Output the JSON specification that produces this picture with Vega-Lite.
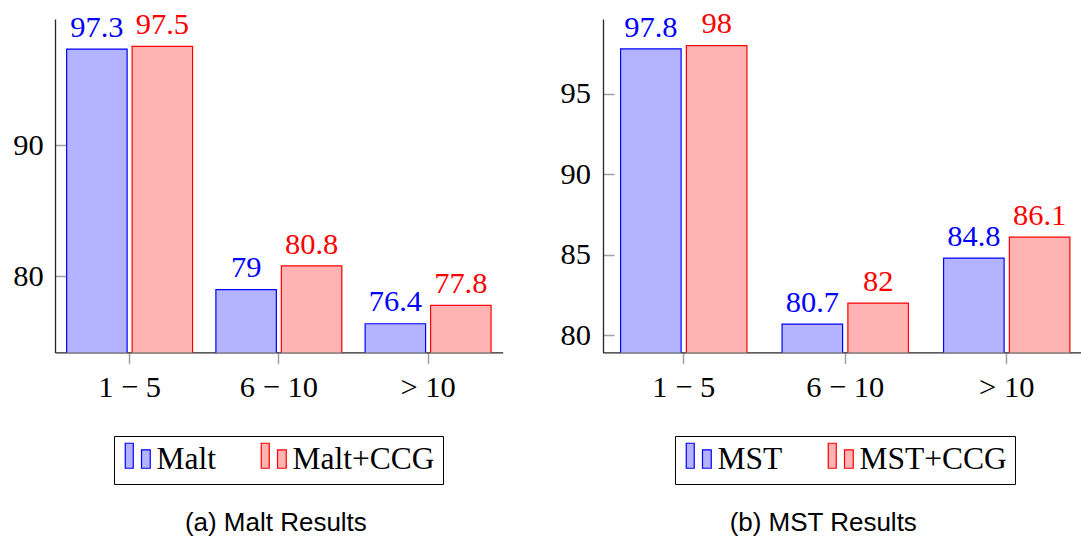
{
  "$schema": "https://vega.github.io/schema/vega-lite/v6.json",
  "background": "white",
  "padding": {"left": 0, "top": 9, "right": -7, "bottom": 0},
  "spacing": 45,
  "config": {
    "view": {"stroke": null},
    "axis": {
      "labelFont": "Liberation Serif",
      "labelFontSize": 30.5,
      "labelColor": "black",
      "domainColor": "#262626",
      "domainWidth": 1.3,
      "tickColor": "#a0a0a0",
      "tickWidth": 1.5,
      "grid": false,
      "title": null,
      "zindex": 1
    },
    "legend": {"layout": {"bottom": {"anchor": "middle"}}}
  },
  "resolve": {
    "scale": {"x": "independent", "y": "independent", "xOffset": "independent", "fill": "independent", "stroke": "independent", "color": "independent"},
    "legend": {"fill": "independent"}
  },
  "hconcat": [
    {
      "width": 447.7,
      "height": 333.4,
      "title": {"text": "(a) Malt Results", "orient": "bottom", "anchor": "middle", "frame": "group", "font": "Liberation Sans", "fontSize": 26, "fontWeight": "normal", "color": "black", "offset": 26, "dx": -3},
      "data": {"values": [
        {"bin": "1 − 5", "series": "Malt", "value": 97.3},
        {"bin": "1 − 5", "series": "Malt+CCG", "value": 97.5},
        {"bin": "6 − 10", "series": "Malt", "value": 79},
        {"bin": "6 − 10", "series": "Malt+CCG", "value": 80.8},
        {"bin": "> 10", "series": "Malt", "value": 76.4},
        {"bin": "> 10", "series": "Malt+CCG", "value": 77.8}
      ]},
      "encoding": {
        "x": {"field": "bin", "type": "nominal", "sort": ["1 − 5", "6 − 10", "> 10"], "scale": {"paddingInner": 0, "paddingOuter": 0}, "axis": {"labelAngle": 0, "tickSize": 11, "labelPadding": 9}},
        "xOffset": {"field": "series", "type": "nominal", "sort": ["Malt", "Malt+CCG"], "scale": {"paddingInner": 0.076, "paddingOuter": 0.178}},
        "y": {"field": "value", "type": "quantitative", "scale": {"domain": [74.22, 99.59], "nice": false, "zero": false}, "axis": {"values": [80, 90], "tickSize": -11, "labelPadding": 22.7, "minExtent": 55}}
      },
      "layer": [
        {
          "mark": {"type": "bar", "strokeWidth": 1.2, "clip": true},
          "encoding": {
            "fill": {"field": "series", "type": "nominal", "sort": ["Malt", "Malt+CCG"], "scale": {"range": ["#b3b3ff", "#ffb3b3"]},
              "legend": {"orient": "bottom", "direction": "horizontal", "title": null, "strokeColor": "black", "fillColor": "white", "cornerRadius": 0, "padding": 8, "offset": 33, "symbolType": "M-1,-1.35H-0.36V0.65H-1Z M0.3,-0.82H1V0.65H0.3Z", "symbolSize": 625, "symbolStrokeWidth": 1.2, "labelFont": "Liberation Serif", "labelFontSize": 31.5, "labelColor": "black", "labelOffset": 3, "columnPadding": 42, "labelLimit": 400,
                "encode": {"symbols": {"update": {"stroke": {"signal": "test(/CCG/, datum.value) ? '#ff0000' : '#0000ff'"}, "strokeWidth": {"value": 1.2}}}}}},
            "stroke": {"field": "series", "type": "nominal", "sort": ["Malt", "Malt+CCG"], "scale": {"range": ["#0000ff", "#ff0000"]}, "legend": null}
          }
        },
        {
          "mark": {"type": "text", "font": "Liberation Serif", "fontSize": 30.5, "baseline": "alphabetic", "align": "center", "dy": -12.4},
          "encoding": {
            "text": {"field": "value", "type": "quantitative"},
            "color": {"field": "series", "type": "nominal", "sort": ["Malt", "Malt+CCG"], "scale": {"range": ["#0000ff", "#ff0000"]}, "legend": null}
          }
        }
      ]
    },
    {
      "width": 484.5,
      "height": 333.4,
      "title": {"text": "(b) MST Results", "orient": "bottom", "anchor": "middle", "frame": "group", "font": "Liberation Sans", "fontSize": 26, "fontWeight": "normal", "color": "black", "offset": 26, "dx": -22},
      "data": {"values": [
        {"bin": "1 − 5", "series": "MST", "value": 97.8},
        {"bin": "1 − 5", "series": "MST+CCG", "value": 98},
        {"bin": "6 − 10", "series": "MST", "value": 80.7},
        {"bin": "6 − 10", "series": "MST+CCG", "value": 82},
        {"bin": "> 10", "series": "MST", "value": 84.8},
        {"bin": "> 10", "series": "MST+CCG", "value": 86.1}
      ]},
      "encoding": {
        "x": {"field": "bin", "type": "nominal", "sort": ["1 − 5", "6 − 10", "> 10"], "scale": {"paddingInner": 0, "paddingOuter": 0}, "axis": {"labelAngle": 0, "tickSize": 11, "labelPadding": 9}},
        "xOffset": {"field": "series", "type": "nominal", "sort": ["MST", "MST+CCG"], "scale": {"paddingInner": 0.08, "paddingOuter": 0.267}},
        "y": {"field": "value", "type": "quantitative", "scale": {"domain": [78.94, 99.66], "nice": false, "zero": false}, "axis": {"values": [80, 85, 90, 95], "tickSize": -11, "labelPadding": 23.6, "minExtent": 55}}
      },
      "layer": [
        {
          "mark": {"type": "bar", "strokeWidth": 1.2, "clip": true},
          "encoding": {
            "fill": {"field": "series", "type": "nominal", "sort": ["MST", "MST+CCG"], "scale": {"range": ["#b3b3ff", "#ffb3b3"]},
              "legend": {"orient": "bottom", "direction": "horizontal", "title": null, "strokeColor": "black", "fillColor": "white", "cornerRadius": 0, "padding": 8, "offset": 33, "symbolType": "M-1,-1.35H-0.36V0.65H-1Z M0.3,-0.82H1V0.65H0.3Z", "symbolSize": 625, "symbolStrokeWidth": 1.2, "labelFont": "Liberation Serif", "labelFontSize": 31.5, "labelColor": "black", "labelOffset": 3, "columnPadding": 42, "labelLimit": 400,
                "encode": {"symbols": {"update": {"stroke": {"signal": "test(/CCG/, datum.value) ? '#ff0000' : '#0000ff'"}, "strokeWidth": {"value": 1.2}}}}}},
            "stroke": {"field": "series", "type": "nominal", "sort": ["MST", "MST+CCG"], "scale": {"range": ["#0000ff", "#ff0000"]}, "legend": null}
          }
        },
        {
          "mark": {"type": "text", "font": "Liberation Serif", "fontSize": 30.5, "baseline": "alphabetic", "align": "center", "dy": -12.4},
          "encoding": {
            "text": {"field": "value", "type": "quantitative"},
            "color": {"field": "series", "type": "nominal", "sort": ["MST", "MST+CCG"], "scale": {"range": ["#0000ff", "#ff0000"]}, "legend": null}
          }
        }
      ]
    }
  ]
}
